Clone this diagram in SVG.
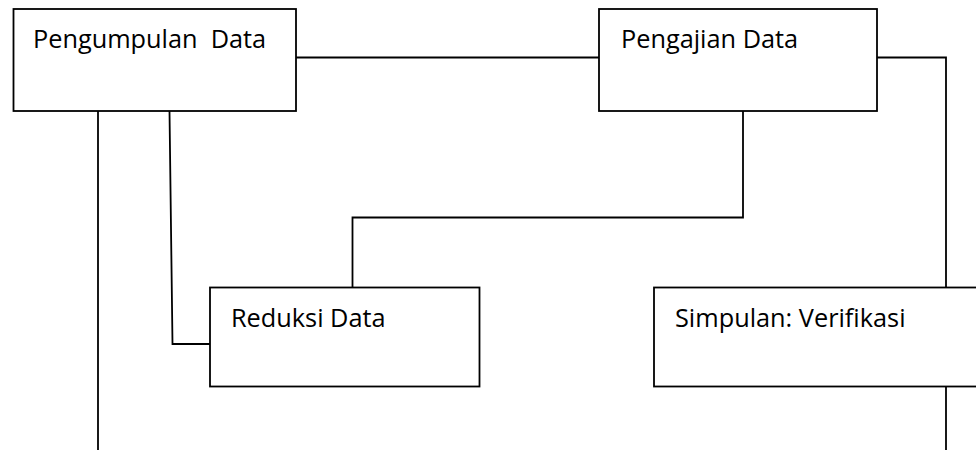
<svg xmlns="http://www.w3.org/2000/svg" width="976" height="450" viewBox="0 0 976 450">
<style>
.box{fill:#fff;stroke:#000;stroke-width:1.8}
.ln{fill:none;stroke:#000;stroke-width:1.8}
.lbl{font-family:"Open Sans","Liberation Sans",sans-serif;font-size:25.3px;fill:#000;white-space:pre}
</style>
<rect width="976" height="450" fill="#fff"/>
<g id="connectors">
<line class="ln" x1="296" y1="57.5" x2="599" y2="57.5"/>
<polyline class="ln" points="877,57.5 946,57.5 946,287.5"/>
<polyline class="ln" points="743,111 743,217.5 352.5,217.5 352.5,287.5"/>
<polyline class="ln" points="169.5,111 172.5,344 210,344"/>
<line class="ln" x1="98" y1="111" x2="98" y2="450"/>
<line class="ln" x1="946" y1="386.5" x2="946" y2="450"/>
</g>
<g id="pengumpulan">
<rect class="box" x="13.5" y="9" width="282.5" height="102"/>
<text class="lbl" x="33" y="48" xml:space="preserve">Pengumpulan  Data</text>
</g>
<g id="pengajian">
<rect class="box" x="599" y="9" width="278" height="102"/>
<text class="lbl" x="621" y="47.5">Pengajian Data</text>
</g>
<g id="reduksi">
<rect class="box" x="210" y="287.5" width="269.5" height="99"/>
<text class="lbl" x="231" y="326.5">Reduksi Data</text>
</g>
<g id="simpulan">
<rect class="box" x="654" y="287.5" width="340" height="99"/>
<text class="lbl" x="675" y="326.5">Simpulan: Verifikasi</text>
</g>
</svg>
